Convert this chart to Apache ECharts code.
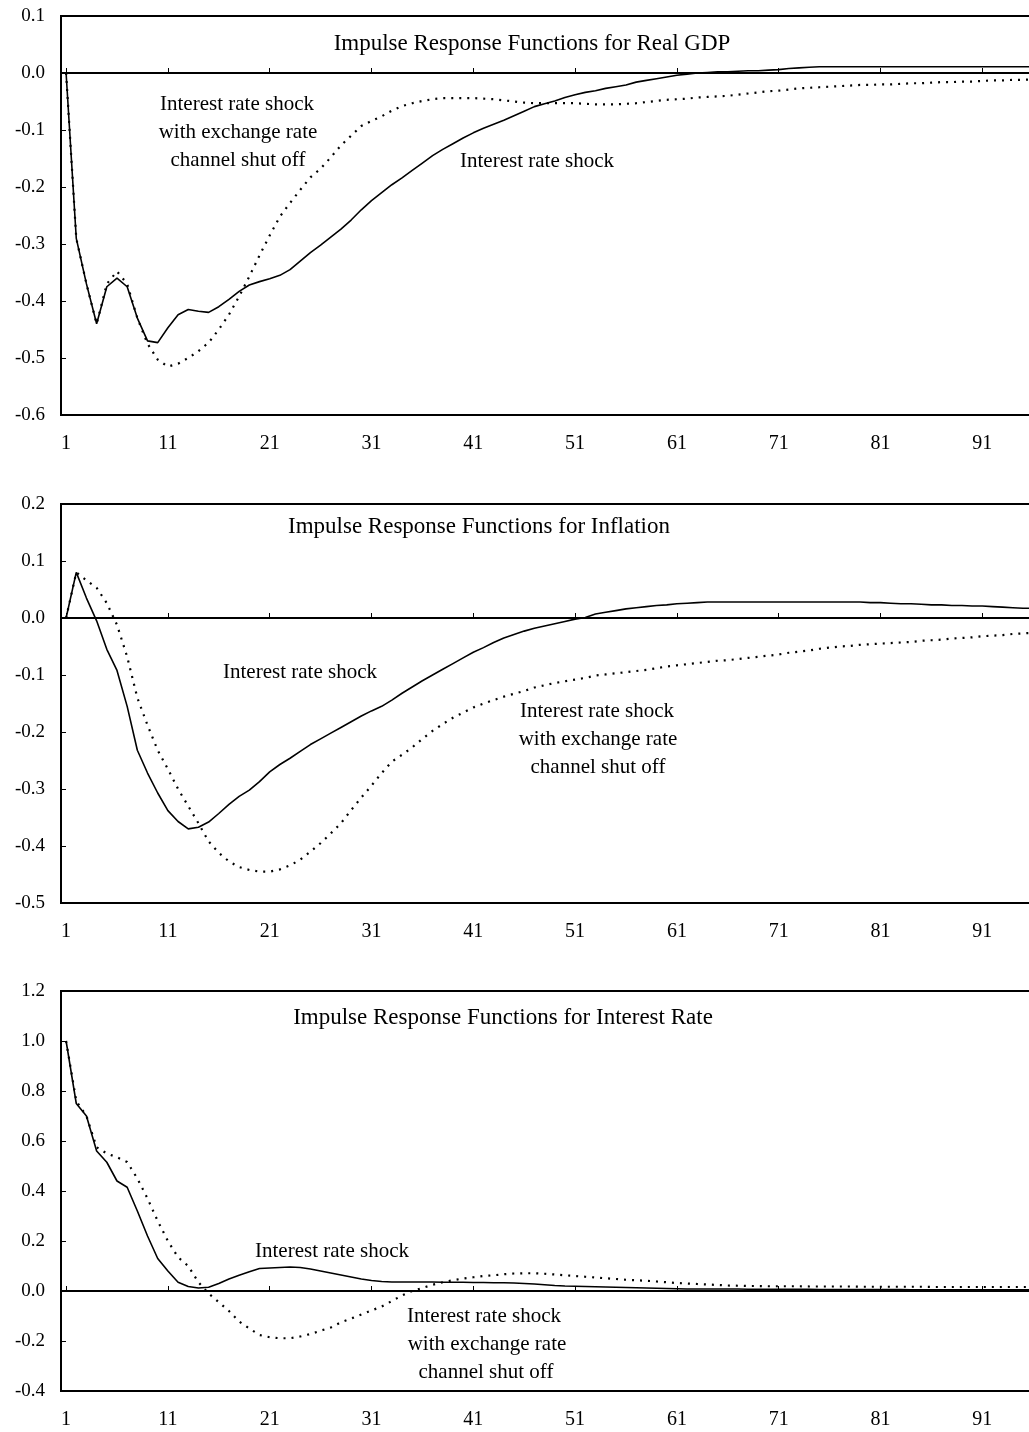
<!DOCTYPE html>
<html>
<head>
<meta charset="utf-8">
<script src="https://cdn.jsdelivr.net/npm/echarts@6/dist/echarts.min.js"></script>
<style>
html,body{margin:0;padding:0;background:#fff;}
#chart{width:1029px;height:1432px;}
</style>
</head>
<body>
<div id="chart"></div>
<script>
// ---- data ----
const periods = Array.from({length: 100}, (_, i) => String(i + 1));

const gdpShock = [0, -0.29, -0.37, -0.44, -0.375, -0.36, -0.375, -0.43, -0.47, -0.473,
 -0.447, -0.424, -0.415, -0.418, -0.42, -0.41, -0.397, -0.383, -0.372, -0.366,
 -0.361, -0.355, -0.345, -0.33, -0.315, -0.302, -0.288, -0.274, -0.258, -0.24,
 -0.224, -0.21, -0.196, -0.184, -0.171, -0.158, -0.145, -0.134, -0.124, -0.114,
 -0.105, -0.097, -0.09, -0.083, -0.075, -0.067, -0.059, -0.054, -0.049, -0.043,
 -0.038, -0.034, -0.031, -0.027, -0.024, -0.021, -0.016, -0.013, -0.01, -0.007,
 -0.004, -0.002, 0, 0.001, 0.002, 0.002, 0.003, 0.004, 0.004, 0.005,
 0.006, 0.008, 0.009, 0.01, 0.011, 0.011, 0.011, 0.011, 0.011, 0.011,
 0.011, 0.011, 0.011, 0.011, 0.011, 0.011, 0.011, 0.011, 0.011, 0.011,
 0.011, 0.011, 0.011, 0.011, 0.011, 0.011, 0.01, 0.01, 0.01, 0.01];

const gdpShockNoFx = [0, -0.29, -0.37, -0.44, -0.37, -0.348, -0.37, -0.43, -0.475, -0.503,
 -0.515, -0.51, -0.5, -0.488, -0.473, -0.45, -0.424, -0.392, -0.357, -0.32,
 -0.285, -0.252, -0.228, -0.205, -0.183, -0.168, -0.148, -0.127, -0.11, -0.093,
 -0.084, -0.076, -0.066, -0.058, -0.053, -0.049, -0.046, -0.044, -0.044, -0.044,
 -0.044, -0.045, -0.046, -0.048, -0.05, -0.052, -0.053, -0.053, -0.053, -0.053,
 -0.053, -0.054, -0.055, -0.055, -0.055, -0.054, -0.053, -0.051, -0.049, -0.047,
 -0.046, -0.045, -0.043, -0.042, -0.041, -0.04, -0.038, -0.036, -0.034, -0.032,
 -0.031, -0.029, -0.027, -0.026, -0.025, -0.024, -0.023, -0.022, -0.021, -0.021,
 -0.02, -0.02, -0.019, -0.018, -0.018, -0.017, -0.016, -0.016, -0.015, -0.015,
 -0.014, -0.013, -0.013, -0.012, -0.012, -0.011, -0.011, -0.01, -0.01, -0.01];

const infShock = [0, 0.08, 0.035, -0.005, -0.055, -0.092, -0.155, -0.232, -0.272, -0.307,
 -0.338, -0.357, -0.37, -0.367, -0.358, -0.343, -0.327, -0.313, -0.302, -0.287,
 -0.27, -0.257, -0.246, -0.234, -0.222, -0.212, -0.202, -0.192, -0.182, -0.172,
 -0.163, -0.155, -0.144, -0.132, -0.121, -0.11, -0.1, -0.09, -0.08, -0.07,
 -0.06, -0.052, -0.043, -0.035, -0.029, -0.023, -0.018, -0.014, -0.01, -0.006,
 -0.002, 0.001, 0.007, 0.01, 0.013, 0.016, 0.018, 0.02, 0.022, 0.023,
 0.025, 0.026, 0.027, 0.028, 0.028, 0.028, 0.028, 0.028, 0.028, 0.028,
 0.028, 0.028, 0.028, 0.028, 0.028, 0.028, 0.028, 0.028, 0.028, 0.027,
 0.027, 0.026, 0.025, 0.025, 0.024, 0.023, 0.023, 0.022, 0.022, 0.021,
 0.021, 0.02, 0.019, 0.018, 0.017, 0.017, 0.016, 0.016, 0.015, 0.015];

const infShockNoFx = [0, 0.08, 0.066, 0.053, 0.026, -0.012, -0.068, -0.14, -0.188, -0.232,
 -0.265, -0.3, -0.33, -0.36, -0.392, -0.412, -0.427, -0.437, -0.442, -0.445,
 -0.445, -0.441, -0.434, -0.424, -0.41, -0.395, -0.378, -0.36, -0.337, -0.315,
 -0.294, -0.272, -0.252, -0.24, -0.227, -0.212, -0.198, -0.186, -0.175, -0.166,
 -0.157, -0.15, -0.144, -0.138, -0.133, -0.128, -0.122, -0.118, -0.114, -0.111,
 -0.108, -0.105, -0.101, -0.099, -0.097, -0.095, -0.093, -0.091, -0.088, -0.085,
 -0.083, -0.081, -0.079, -0.077, -0.075, -0.074, -0.072, -0.07, -0.068, -0.066,
 -0.064, -0.061, -0.059, -0.057, -0.054, -0.052, -0.05, -0.049, -0.047, -0.046,
 -0.045, -0.044, -0.043, -0.042, -0.04, -0.039, -0.038, -0.036, -0.035, -0.034,
 -0.032, -0.031, -0.03, -0.028, -0.027, -0.026, -0.025, -0.024, -0.023, -0.022];

const rateShock = [1.0, 0.75, 0.70, 0.56, 0.515, 0.44, 0.415, 0.32, 0.22, 0.13,
 0.08, 0.035, 0.018, 0.012, 0.015, 0.03, 0.048, 0.063, 0.077, 0.09,
 0.092, 0.094, 0.096, 0.094, 0.088, 0.08, 0.072, 0.064, 0.056, 0.048,
 0.042, 0.038, 0.036, 0.036, 0.036, 0.036, 0.036, 0.035, 0.035, 0.035,
 0.034, 0.034, 0.033, 0.033, 0.032, 0.03, 0.028, 0.025, 0.022, 0.02,
 0.019, 0.018, 0.017, 0.016, 0.015, 0.014, 0.013, 0.012, 0.011, 0.01,
 0.009, 0.008, 0.008, 0.008, 0.008, 0.008, 0.008, 0.007, 0.007, 0.007,
 0.007, 0.007, 0.007, 0.007, 0.006, 0.006, 0.006, 0.006, 0.006, 0.006,
 0.006, 0.006, 0.006, 0.005, 0.005, 0.005, 0.005, 0.005, 0.005, 0.005,
 0.005, 0.005, 0.005, 0.005, 0.005, 0.005, 0.005, 0.005, 0.005, 0.005];

const rateShockNoFx = [1.0, 0.76, 0.70, 0.575, 0.55, 0.535, 0.516, 0.45, 0.37, 0.28,
 0.2, 0.135, 0.1, 0.035, -0.01, -0.045, -0.08, -0.122, -0.15, -0.176,
 -0.185, -0.189, -0.189, -0.182, -0.172, -0.159, -0.146, -0.125, -0.11, -0.094,
 -0.078, -0.062, -0.04, -0.018, 0.0, 0.012, 0.025, 0.035, 0.043, 0.05,
 0.055, 0.06, 0.063, 0.067, 0.07, 0.071, 0.071, 0.069, 0.066, 0.063,
 0.06, 0.057, 0.054, 0.051, 0.048, 0.045, 0.043, 0.041, 0.038, 0.035,
 0.032, 0.03, 0.028, 0.026, 0.024, 0.022, 0.021, 0.02, 0.02, 0.019,
 0.019, 0.019, 0.019, 0.018, 0.018, 0.018, 0.018, 0.018, 0.017, 0.017,
 0.017, 0.017, 0.017, 0.017, 0.017, 0.016, 0.016, 0.016, 0.016, 0.016,
 0.016, 0.016, 0.016, 0.016, 0.016, 0.016, 0.016, 0.016, 0.016, 0.016];

const panelTitles = ['Impulse Response Functions for Real GDP',
  'Impulse Response Functions for Inflation',
  'Impulse Response Functions for Interest Rate'];
const yMin = [-0.6, -0.5, -0.4];
const yMax = [0.1, 0.2, 1.2];
const yStep = [0.1, 0.1, 0.2];
const shockLabel = 'Interest rate shock';
const noFxLabel = ['Interest rate shock', 'with exchange rate', 'channel shut off'];

// ---- layout ----
const FONT = "'Liberation Serif', 'DejaVu Serif', serif";
const gridTops = [16, 504, 991];
const gridHeights = [399, 399, 400];
const solidSeries = [gdpShock, infShock, rateShock];
const dottedSeries = [gdpShockNoFx, infShockNoFx, rateShockNoFx];

const grids = [], xAxes = [], yAxes = [], series = [];
for (let i = 0; i < 3; i++) {
  grids.push({left: 61, top: gridTops[i], width: 1018, height: gridHeights[i],
    outerBoundsMode: 'none', containLabel: false,
    show: true, borderColor: '#000', borderWidth: 2, backgroundColor: 'rgba(0,0,0,0)'});
  xAxes.push({type: 'category', gridIndex: i, data: periods, boundaryGap: true,
    axisLine: {show: false, onZero: false}, axisTick: {show: false},
    axisLabel: {interval: 9, margin: 19, fontSize: 20, fontFamily: FONT, color: '#000'}});
  xAxes.push({type: 'category', gridIndex: i, data: periods, boundaryGap: true, position: 'top',
    axisLine: {show: true, onZero: true, lineStyle: {color: '#000', width: 2}},
    axisTick: {show: true, interval: 9, alignWithLabel: true, length: 5, lineStyle: {color: '#000', width: 1}},
    axisLabel: {show: false}});
  yAxes.push({type: 'value', gridIndex: i, min: yMin[i], max: yMax[i], interval: yStep[i],
    axisLine: {show: true, lineStyle: {color: '#000', width: 2}},
    axisTick: {show: true, inside: true, length: 5, lineStyle: {color: '#000'}},
    splitLine: {show: false},
    axisLabel: {margin: 16, fontSize: 19, fontFamily: FONT, color: '#000',
      formatter: v => (Math.abs(v) < 1e-9 ? '0.0' : v.toFixed(1))}});
  series.push({type: 'line', xAxisIndex: 2 * i, yAxisIndex: i, data: solidSeries[i],
    symbol: 'none', lineStyle: {color: '#000', width: 1.6}, z: 3});
  series.push({type: 'line', xAxisIndex: 2 * i, yAxisIndex: i, data: dottedSeries[i],
    symbol: 'none', lineStyle: {color: '#000', width: 2.2, type: [2, 6]}, z: 3});
}

function txt(s, x, y, size) {
  return {type: 'text', x: x, y: y, z: 10,
    style: {text: s, font: size + 'px ' + FONT, fill: '#000', textAlign: 'center', textVerticalAlign: 'middle'}};
}
const graphics = [
  txt(panelTitles[0], 532, 44, 23),
  txt(noFxLabel[0], 237, 104, 21), txt(noFxLabel[1], 238, 132, 21), txt(noFxLabel[2], 238, 160, 21),
  txt(shockLabel, 537, 161, 21),
  txt(panelTitles[1], 479, 527, 23),
  txt(shockLabel, 300, 672, 21),
  txt(noFxLabel[0], 597, 711, 21), txt(noFxLabel[1], 598, 739, 21), txt(noFxLabel[2], 598, 767, 21),
  txt(panelTitles[2], 503, 1018, 23),
  txt(shockLabel, 332, 1251, 21),
  txt(noFxLabel[0], 484, 1316, 21), txt(noFxLabel[1], 487, 1344, 21), txt(noFxLabel[2], 486, 1372, 21)
];

const chart = echarts.init(document.getElementById('chart'));
chart.setOption({
  animation: false,
  backgroundColor: '#fff',
  grid: grids, xAxis: xAxes, yAxis: yAxes, series: series,
  graphic: graphics
});
</script>
</body>
</html>
